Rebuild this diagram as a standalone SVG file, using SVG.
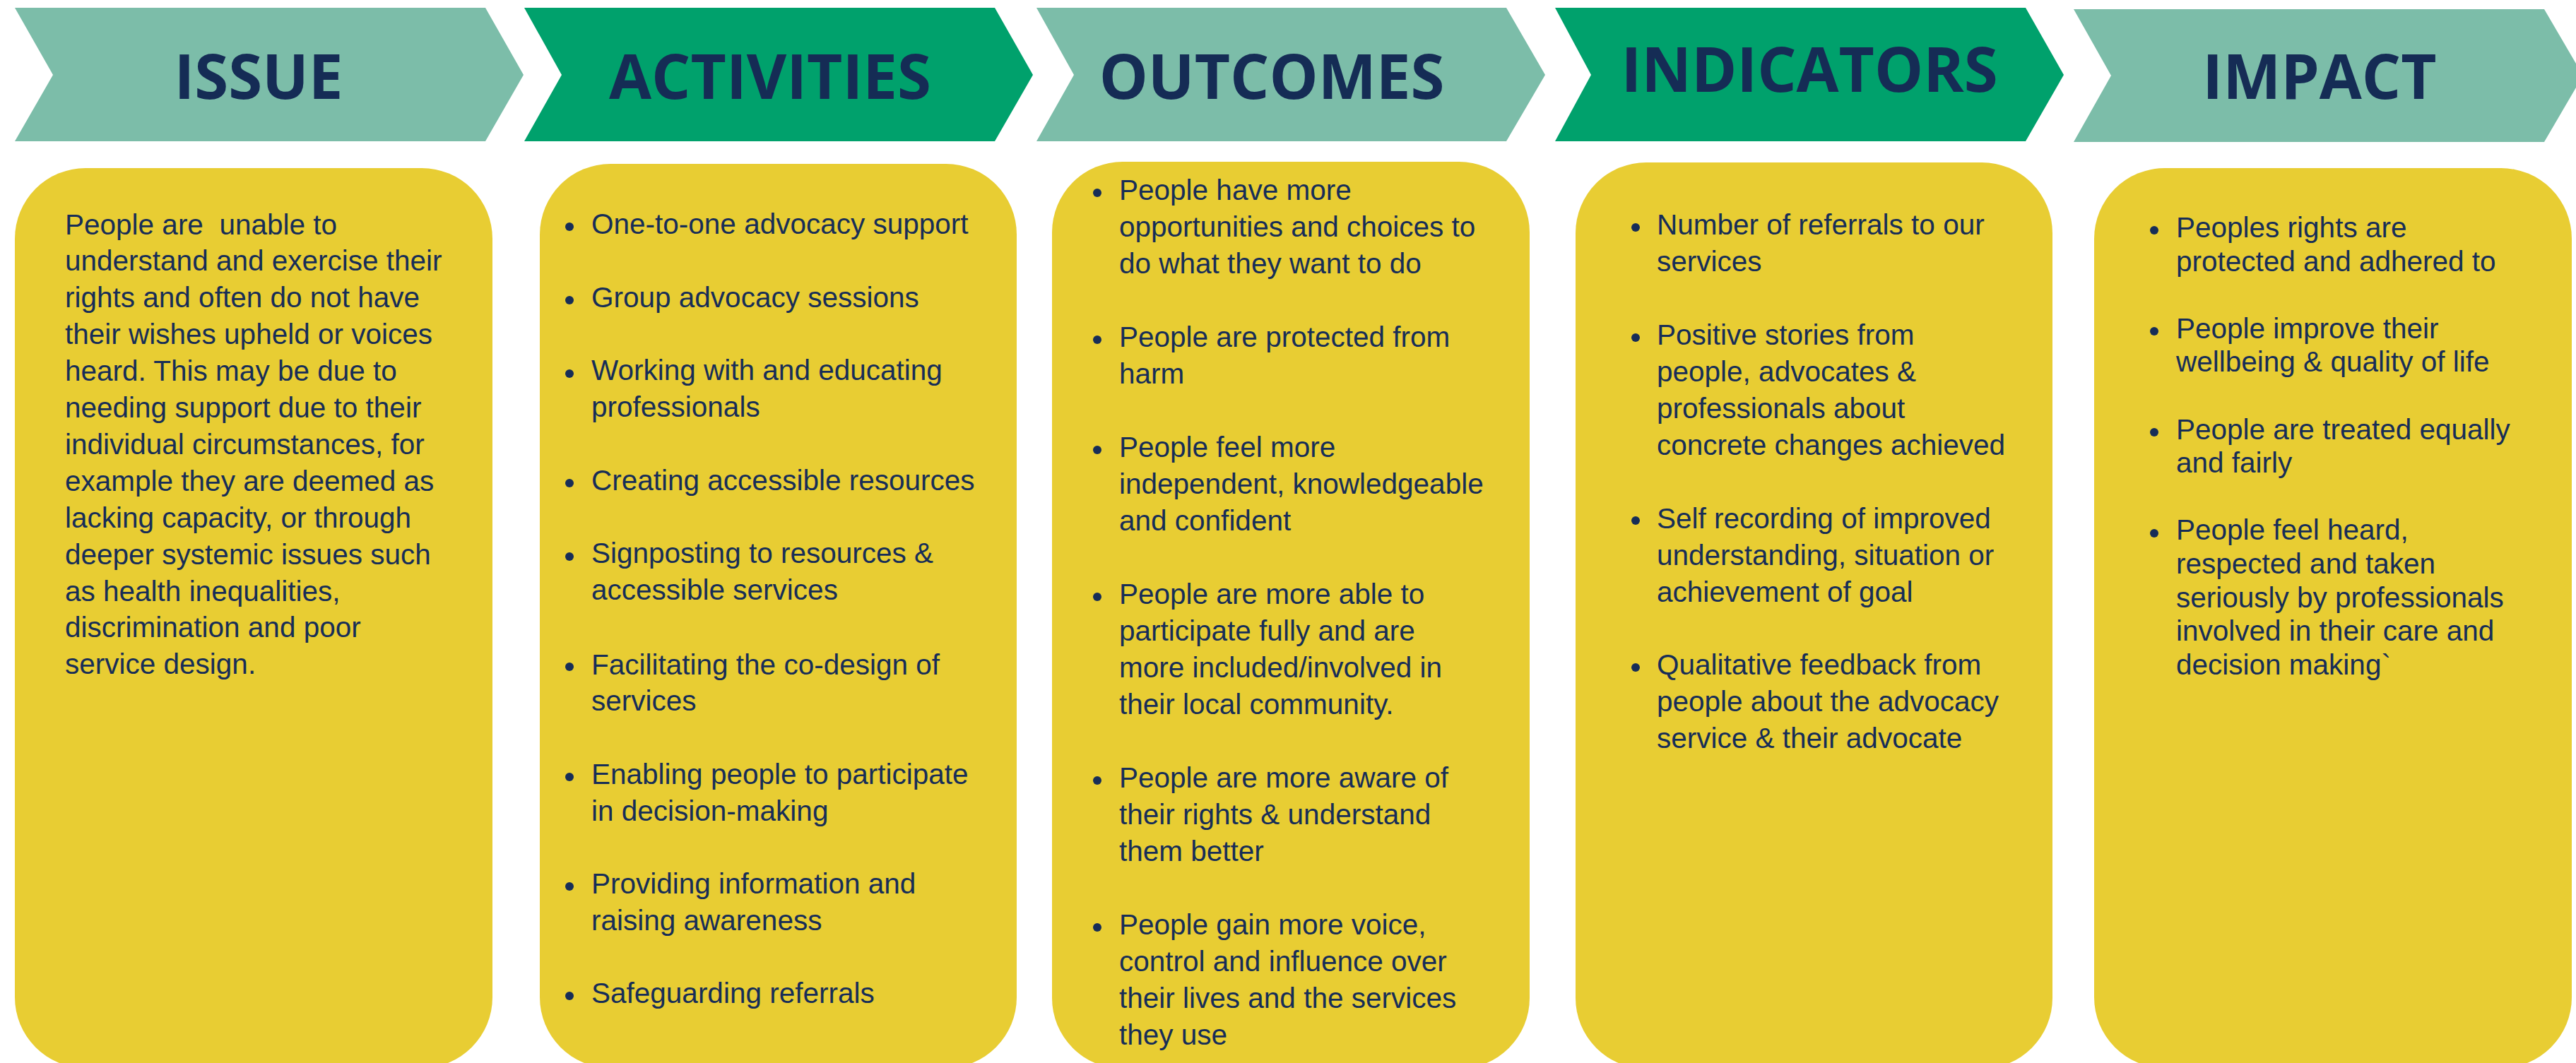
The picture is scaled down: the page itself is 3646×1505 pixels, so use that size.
<svg xmlns="http://www.w3.org/2000/svg" width="3646" height="1505" viewBox="0 0 3646 1505">
<style>
.bg{fill:#ffffff}
.light{fill:#7cbda9}
.dark{fill:#00a16c}
.box{fill:#e8cd33}
.hd{font-family:"Open Sans","Liberation Sans",sans-serif;font-weight:700;font-size:87px;fill:#152c55;text-anchor:middle}
.tx{font-family:"Liberation Sans",Arial,sans-serif;font-size:40.5px;fill:#172d57}
.bul{fill:#172d57}
</style>
<rect class="bg" x="0" y="0" width="3646" height="1505"/>
<g id="connectors"/>
<g id="issue">
<polygon class="light" points="21,11 687,11 741,106 687,200 21,200 75,106"/>
<text class="hd" x="366" y="140">ISSUE</text>
<rect class="box" x="21" y="238" width="676" height="1274" rx="100" ry="100"/>
<text class="tx" xml:space="preserve"><tspan x="92" y="331.5">People are  unable to</tspan><tspan x="92" y="383.4">understand and exercise their</tspan><tspan x="92" y="435.3">rights and often do not have</tspan><tspan x="92" y="487.2">their wishes upheld or voices</tspan><tspan x="92" y="539.1">heard. This may be due to</tspan><tspan x="92" y="591">needing support due to their</tspan><tspan x="92" y="642.9">individual circumstances, for</tspan><tspan x="92" y="694.8">example they are deemed as</tspan><tspan x="92" y="746.7">lacking capacity, or through</tspan><tspan x="92" y="798.6">deeper systemic issues such</tspan><tspan x="92" y="850.5">as health inequalities,</tspan><tspan x="92" y="902.4">discrimination and poor</tspan><tspan x="92" y="954.3">service design.</tspan></text>
</g>
<g id="activities">
<polygon class="dark" points="742,11 1408,11 1462,106 1408,200 742,200 795,106"/>
<text class="hd" x="1090" y="140">ACTIVITIES</text>
<rect class="box" x="764" y="232" width="675" height="1280" rx="100" ry="100"/>
<g class="bul"><circle cx="806" cy="321" r="6"/><circle cx="806" cy="425" r="6"/><circle cx="806" cy="529" r="6"/><circle cx="806" cy="684" r="6"/><circle cx="806" cy="788" r="6"/><circle cx="806" cy="944" r="6"/><circle cx="806" cy="1100" r="6"/><circle cx="806" cy="1255" r="6"/><circle cx="806" cy="1410" r="6"/></g>
<text class="tx"><tspan x="837" y="331">One-to-one advocacy support</tspan><tspan x="837" y="434.6">Group advocacy sessions</tspan><tspan x="837" y="538.2">Working with and educating</tspan><tspan x="837" y="590">professionals</tspan><tspan x="837" y="693.6">Creating accessible resources</tspan><tspan x="837" y="797.2">Signposting to resources &amp;</tspan><tspan x="837" y="849">accessible services</tspan><tspan x="837" y="954.6">Facilitating the co-design of</tspan><tspan x="837" y="1006.4">services</tspan><tspan x="837" y="1110">Enabling people to participate</tspan><tspan x="837" y="1161.8">in decision-making</tspan><tspan x="837" y="1265.4">Providing information and</tspan><tspan x="837" y="1317.2">raising awareness</tspan><tspan x="837" y="1419.8">Safeguarding referrals</tspan></text>
</g>
<g id="outcomes">
<polygon class="light" points="1467,11 2132,11 2187,106 2132,200 1467,200 1520,106"/>
<text class="hd" x="1800" y="140">OUTCOMES</text>
<rect class="box" x="1489" y="229" width="676" height="1284" rx="100" ry="100"/>
<g class="bul"><circle cx="1553" cy="273" r="6"/><circle cx="1553" cy="481" r="6"/><circle cx="1553" cy="637" r="6"/><circle cx="1553" cy="845" r="6"/><circle cx="1553" cy="1105" r="6"/><circle cx="1553" cy="1313" r="6"/></g>
<text class="tx"><tspan x="1584" y="283">People have more</tspan><tspan x="1584" y="335">opportunities and choices to</tspan><tspan x="1584" y="387">do what they want to do</tspan><tspan x="1584" y="491">People are protected from</tspan><tspan x="1584" y="543">harm</tspan><tspan x="1584" y="647">People feel more</tspan><tspan x="1584" y="699">independent, knowledgeable</tspan><tspan x="1584" y="751">and confident</tspan><tspan x="1584" y="855">People are more able to</tspan><tspan x="1584" y="907">participate fully and are</tspan><tspan x="1584" y="959">more included/involved in</tspan><tspan x="1584" y="1011">their local community.</tspan><tspan x="1584" y="1115">People are more aware of</tspan><tspan x="1584" y="1167">their rights &amp; understand</tspan><tspan x="1584" y="1219">them better</tspan><tspan x="1584" y="1323">People gain more voice,</tspan><tspan x="1584" y="1375">control and influence over</tspan><tspan x="1584" y="1427">their lives and the services</tspan><tspan x="1584" y="1479">they use</tspan></text>
</g>
<g id="indicators">
<polygon class="dark" points="2201,11 2867,11 2921,106 2867,200 2201,200 2252,106"/>
<text class="hd" x="2561" y="130">INDICATORS</text>
<rect class="box" x="2230" y="230" width="675" height="1283" rx="100" ry="100"/>
<g class="bul"><circle cx="2315" cy="322" r="6"/><circle cx="2315" cy="478" r="6"/><circle cx="2315" cy="737" r="6"/><circle cx="2315" cy="945" r="6"/></g>
<text class="tx"><tspan x="2345" y="332">Number of referrals to our</tspan><tspan x="2345" y="384">services</tspan><tspan x="2345" y="488">Positive stories from</tspan><tspan x="2345" y="540">people, advocates &amp;</tspan><tspan x="2345" y="592">professionals about</tspan><tspan x="2345" y="644">concrete changes achieved</tspan><tspan x="2345" y="748">Self recording of improved</tspan><tspan x="2345" y="800">understanding, situation or</tspan><tspan x="2345" y="852">achievement of goal</tspan><tspan x="2345" y="955">Qualitative feedback from</tspan><tspan x="2345" y="1007">people about the advocacy</tspan><tspan x="2345" y="1059">service &amp; their advocate</tspan></text>
</g>
<g id="impact">
<polygon class="light" points="2935,13 3601,13 3656,107 3601,201 2935,201 2988,107"/>
<text class="hd" x="3283" y="140">IMPACT</text>
<rect class="box" x="2964" y="238" width="676" height="1274" rx="100" ry="100"/>
<g class="bul"><circle cx="3049" cy="326" r="6"/><circle cx="3049" cy="469" r="6"/><circle cx="3049" cy="612" r="6"/><circle cx="3049" cy="755" r="6"/></g>
<text class="tx"><tspan x="3080" y="336">Peoples rights are</tspan><tspan x="3080" y="383.6">protected and adhered to</tspan><tspan x="3080" y="478.8">People improve their</tspan><tspan x="3080" y="526.4">wellbeing &amp; quality of life</tspan><tspan x="3080" y="621.6">People are treated equally</tspan><tspan x="3080" y="669.2">and fairly</tspan><tspan x="3080" y="764.4">People feel heard,</tspan><tspan x="3080" y="812">respected and taken</tspan><tspan x="3080" y="859.6">seriously by professionals</tspan><tspan x="3080" y="907.2">involved in their care and</tspan><tspan x="3080" y="954.8">decision making`</tspan></text>
</g>
</svg>
